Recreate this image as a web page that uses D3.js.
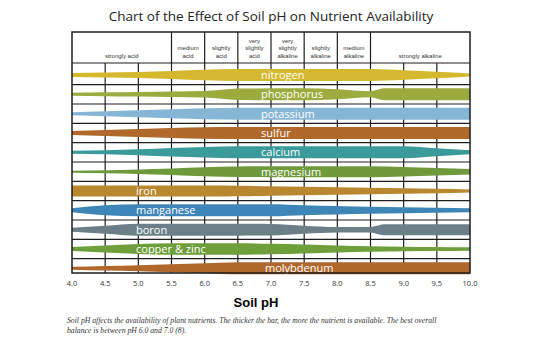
<!DOCTYPE html>
<html>
<head>
<meta charset="utf-8">
<script src="https://cdn.jsdelivr.net/npm/d3@7"></script>
<style>
  body { margin: 0; background: #fff; }
  svg { display: block; }
</style>
</head>
<body>
<div id="chart"></div>
<script>
// nutrients, top to bottom
const nutrients = ["nitrogen", "phosphorus", "potassium", "sulfur", "calcium", "magnesium",
  "iron", "manganese", "boron", "copper & zinc", "molybdenum"];

// bar thickness (0..12) read at pH points, one list per nutrient
const nitrogen   = [[4.0, 4], [4.5, 5], [5.0, 6], [5.5, 8], [6.0, 10.5], [6.5, 12], [8.5, 12], [9.0, 9.5], [9.5, 6.5], [10.0, 3]];
const phosphorus = [[4.0, 3], [4.5, 4], [5.0, 4.5], [5.5, 5.5], [6.0, 6.5], [6.5, 11.5], [7.5, 12], [8.0, 10], [8.5, 6], [8.7, 12], [10.0, 12]];
const potassium  = [[4.0, 3], [4.5, 5], [5.0, 7], [5.5, 9], [6.0, 11], [6.5, 12], [10.0, 12]];
const sulfur     = [[4.0, 4], [4.5, 6], [5.0, 8], [5.5, 10], [6.0, 11.5], [6.5, 12], [10.0, 12]];
const calcium    = [[4.0, 3], [4.5, 4], [5.0, 6], [5.5, 8.5], [6.0, 10.5], [6.5, 12], [9.0, 12], [9.5, 8], [10.0, 4]];
const magnesium  = [[4.0, 2], [4.5, 3], [5.0, 4.5], [5.5, 6.5], [6.0, 9], [6.5, 10.5], [7.0, 11], [8.5, 11], [9.0, 9.5], [9.5, 7.5], [10.0, 5.5]];
const iron       = [[4.0, 11], [6.0, 11], [6.5, 10.5], [7.0, 9.5], [7.5, 8.5], [8.0, 7.5], [8.5, 6.5], [9.0, 5.5], [9.5, 4.5], [10.0, 3]];
const manganese  = [[4.0, 4], [4.5, 10], [5.0, 12], [7.0, 12], [7.5, 10], [8.0, 8.5], [8.5, 7], [9.0, 6], [9.5, 5], [10.0, 4]];
const boron      = [[4.0, 4], [4.5, 8], [5.0, 12], [6.5, 12], [7.0, 11.5], [7.5, 8], [8.0, 5.5], [8.5, 5.5], [8.7, 11], [10.0, 11]];
const copperZinc = [[4.0, 4], [4.5, 7], [5.0, 10], [5.5, 11.5], [6.5, 11.5], [7.0, 10.5], [7.5, 9], [8.0, 7], [8.5, 5.5], [9.0, 4.5], [9.5, 4], [10.0, 3.5]];
const molybdenum = [[4.0, 3], [4.5, 4.5], [5.0, 6], [5.5, 8], [6.0, 10], [6.5, 12], [10.0, 12]];

const profiles = [nitrogen, phosphorus, potassium, sulfur, calcium, magnesium,
  iron, manganese, boron, copperZinc, molybdenum];

const colors = ["#d5b82e", "#9bab3d", "#86b6d6", "#b0682b", "#3b9a9a", "#6e9a3c",
  "#b9872f", "#3f86b8", "#6c7f89", "#6e9f3b", "#b0672b"];

// soil reaction bands across the header
const bands = [
  { from: 4.0, to: 5.5, label: ["strongly acid"] },
  { from: 5.5, to: 6.0, label: ["medium", "acid"] },
  { from: 6.0, to: 6.5, label: ["slightly", "acid"] },
  { from: 6.5, to: 7.0, label: ["very", "slightly", "acid"] },
  { from: 7.0, to: 7.5, label: ["very", "slightly", "alkaline"] },
  { from: 7.5, to: 8.0, label: ["slightly", "alkaline"] },
  { from: 8.0, to: 8.5, label: ["medium", "alkaline"] },
  { from: 8.5, to: 10.0, label: ["strongly alkaline"] }
];

const ticks = d3.range(4, 10.01, 0.5);

const title = "Chart of the Effect of Soil pH on Nutrient Availability";
const xTitle = "Soil pH";
const caption = [
  "Soil pH affects the availability of plant nutrients. The thicker the bar, the more the nutrient is available. The best overall",
  "balance is between pH 6.0 and 7.0 (8)."
];

// layout
const W = 550, H = 338;
const headTop = 32, plotTop = 63, plotBottom = 273;
const leftLabels = new Set(["iron", "manganese", "boron", "copper & zinc"]);

const svg = d3.select("#chart").append("svg")
  .attr("width", W)
  .attr("height", H);

const x = d3.scaleLinear().domain([4, 10]).range([72, 470]);
const y = d3.scalePoint().domain(nutrients).range([75, 268.3]);
const thick = d3.scaleLinear().domain([0, 12]).range([0, 12]);
const step = y.step();

// title
svg.append("text")
  .attr("x", 271)
  .attr("y", 21)
  .attr("text-anchor", "middle")
  .style("font-family", "'Open Sans', sans-serif")
  .style("font-size", "13.5px")
  .style("fill", "#222")
  .text(title);

const lineColor = "#1e1e1e";

// header dividers
svg.append("g")
  .selectAll("line")
  .data(bands.slice(1))
  .join("line")
  .attr("x1", d => x(d.from)).attr("x2", d => x(d.from))
  .attr("y1", headTop).attr("y2", plotTop)
  .attr("stroke", lineColor).attr("stroke-width", 1.2);

// header labels
const hl = svg.append("g")
  .style("font-family", "'Liberation Sans', Arial, sans-serif")
  .style("font-size", "6px")
  .style("fill", "#333")
  .attr("text-anchor", "middle");
bands.forEach(b => {
  const n = b.label.length;
  b.label.forEach((t, i) => {
    hl.append("text")
      .attr("x", (x(b.from) + x(b.to)) / 2)
      .attr("y", 57.5 - (n - 1 - i) * 7.2)
      .text(t);
  });
});

// grid: vertical every 0.5 pH, horizontal between rows
svg.append("g")
  .selectAll("line")
  .data(ticks.slice(1, -1))
  .join("line")
  .attr("x1", d => x(d)).attr("x2", d => x(d))
  .attr("y1", plotTop).attr("y2", plotBottom)
  .attr("stroke", lineColor).attr("stroke-width", 1.2);

svg.append("g")
  .selectAll("line")
  .data(nutrients.slice(0, -1))
  .join("line")
  .attr("x1", x(4)).attr("x2", x(10))
  .attr("y1", d => y(d) + step / 2).attr("y2", d => y(d) + step / 2)
  .attr("stroke", lineColor).attr("stroke-width", 1.2);

svg.append("line")
  .attr("x1", x(4)).attr("x2", x(10))
  .attr("y1", plotTop).attr("y2", plotTop)
  .attr("stroke", lineColor).attr("stroke-width", 1.2);

// nutrient bars
const area = d3.area()
  .curve(d3.curveMonotoneX)
  .x(d => x(d[0]));

const bars = svg.append("g");
nutrients.forEach((name, i) => {
  const cy = y(name);
  bars.append("path")
    .datum(profiles[i])
    .attr("d", area.y0(d => cy - thick(d[1]) / 2).y1(d => cy + thick(d[1]) / 2))
    .attr("fill", colors[i]);
});

// nutrient labels
svg.append("g")
  .style("font-family", "'Open Sans', sans-serif")
  .style("font-size", "11px")
  .style("fill", "#fff")
  .selectAll("text")
  .data(nutrients)
  .join("text")
  .attr("x", d => leftLabels.has(d) ? 136 : (d === "molybdenum" ? 265 : 261))
  .attr("y", d => y(d) + 4)
  .text(d => d);

// outer frame
svg.append("rect")
  .attr("x", x(4)).attr("y", headTop)
  .attr("width", x(10) - x(4)).attr("height", plotBottom - headTop)
  .attr("fill", "none")
  .attr("stroke", lineColor).attr("stroke-width", 1.5);

// x tick labels
svg.append("g")
  .style("font-family", "'Open Sans', sans-serif")
  .style("font-size", "7.5px")
  .style("fill", "#333")
  .attr("text-anchor", "middle")
  .selectAll("text")
  .data(ticks)
  .join("text")
  .attr("x", d => x(d))
  .attr("y", 286)
  .text(d => d.toFixed(1));

// axis title
svg.append("text")
  .attr("x", 256)
  .attr("y", 306.5)
  .attr("text-anchor", "middle")
  .style("font-family", "'Liberation Sans', Arial, sans-serif")
  .style("font-weight", "bold")
  .style("font-size", "13px")
  .style("fill", "#000")
  .text(xTitle);

// caption
svg.append("g")
  .style("font-family", "'Liberation Serif', serif")
  .style("font-style", "italic")
  .style("font-size", "7.7px")
  .style("fill", "#333")
  .selectAll("text")
  .data(caption)
  .join("text")
  .attr("x", 67)
  .attr("y", (d, i) => 323 + i * 10)
  .text(d => d);
</script>
</body>
</html>
